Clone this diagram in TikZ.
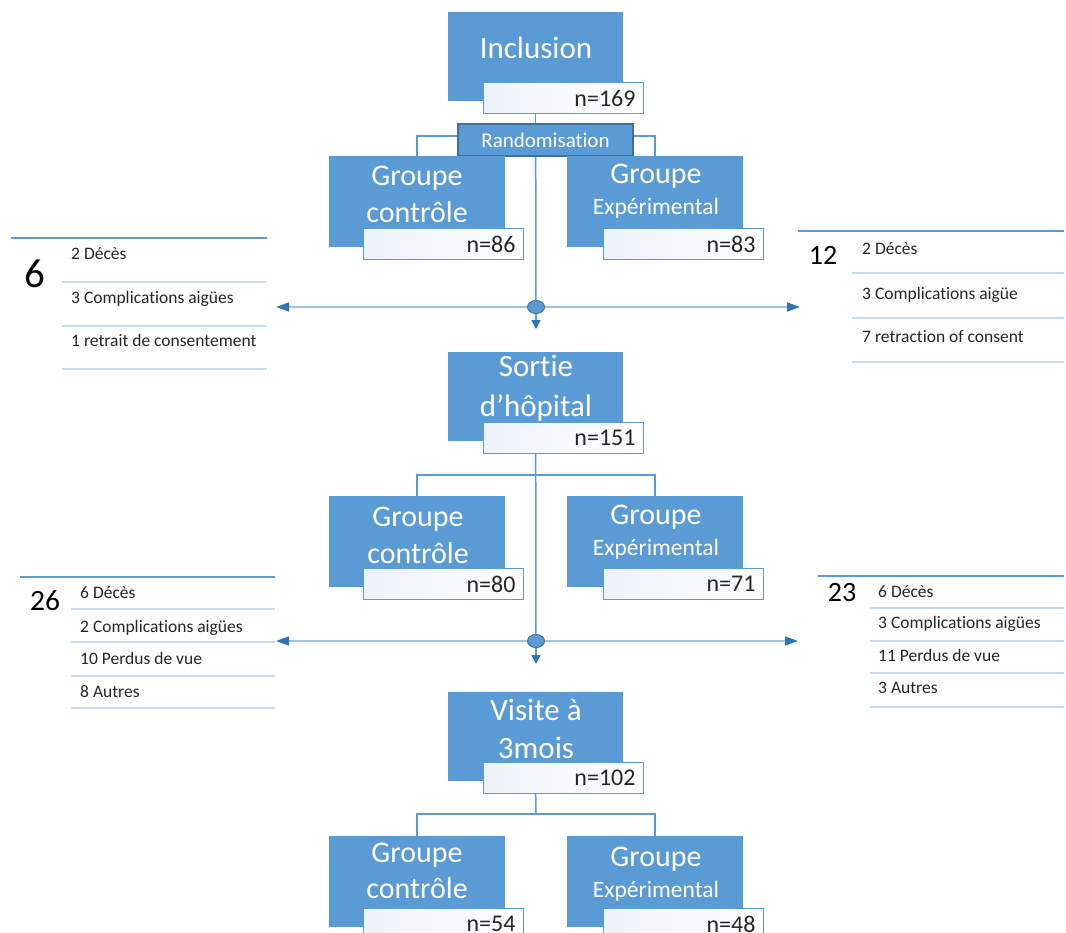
\documentclass[tikz,border=0pt]{standalone}
\usepackage{fontspec}
\setmainfont{Carlito}[Ligatures=NoCommon]
\usepackage{tikz}
\usetikzlibrary{arrows.meta, calc, positioning, shapes.geometric}
\usepackage{xcolor}
\definecolor{boxblue}{HTML}{5B9BD5}
\definecolor{darkblue}{HTML}{41719C}
\definecolor{tipblue}{HTML}{2E75B6}
\definecolor{paleblue}{HTML}{9DC3E6}
\definecolor{sepblue}{HTML}{C5D9F0}
\definecolor{nfill}{HTML}{EDF2FA}

\tikzset{
	mainbox/.style={fill=boxblue, minimum width=175pt, minimum height=89pt, anchor=north west, inner sep=0},
	grpbox/.style={fill=boxblue, minimum width=176pt, minimum height=91pt, anchor=north west, inner sep=0},
	nbox/.style={draw=boxblue, line width=1pt, left color=nfill, right color=white, minimum width=160pt, minimum height=31pt,
		text width=144pt, inner xsep=8pt, inner ysep=0, align=right, anchor=north west, text=black!85,
		font=\fontsize{24}{28}\selectfont},
	randbox/.style={fill=boxblue, draw=darkblue, line width=2pt, minimum width=175pt, minimum height=32pt, anchor=north west,
		inner sep=0, text=white, font=\fontsize{21}{24}\selectfont},
	boxtext/.style={anchor=base, inner sep=0, text=white, font=\fontsize{31}{36}\selectfont},
	grptext/.style={anchor=base, inner sep=0, text=white, font=\fontsize{30}{34}\selectfont},
	exptext/.style={anchor=base, inner sep=0, text=white, font=\fontsize{23.5}{27}\selectfont},
	listtext/.style={anchor=base west, inner sep=0, text=black!85, font=\fontsize{17.5}{20}\selectfont},
	lostnum/.style={anchor=base, inner sep=0, text=black},
	conn/.style={draw=boxblue, line width=1.5pt},
	dot/.style={ellipse, fill=boxblue, draw=darkblue, line width=1pt, minimum width=17pt, minimum height=13pt, inner sep=0},
	downarrow/.style={draw=boxblue, line width=1.5pt, -{Triangle[length=9pt, width=9pt, color=tipblue]}},
	sidearrow/.style={draw=paleblue, line width=1.5pt, -{Triangle[length=13pt, width=9pt, color=tipblue]}},
	topline/.style={draw=boxblue, line width=2pt},
	sepline/.style={draw=sepblue, line width=2pt}
}

\begin{document}
\begin{tikzpicture}[x=1pt, y=-1pt]
	\clip (0,0) rectangle (1066,933);
	\fill[white] (0,0) rectangle (1066,933);

	% inclusion
	\node[mainbox] (incl) at (448,12) {};
	\node[boxtext] (incl-t) at (536,59) {Inclusion};
	\node[nbox] (incln) at (483,82) {n=169};
	\node[randbox] (rando) at (457,123) {Randomisation};
	\draw[conn] (incl.south |- incln.south) -- (incl.south |- rando.north);

	\node[grpbox] (ctrl1) at (329,156) {};
	\node[grptext] (ctrl1-a) at (417,186) {Groupe};
	\node[grptext] (ctrl1-b) at (417,223) {contrôle};
	\node[nbox] (ctrl1n) at (363,228) {n=86};
	\node[grpbox] (exp1) at (567,156) {};
	\node[grptext] (exp1-a) at (656,184) {Groupe};
	\node[exptext] (exp1-b) at (656,215) {Expérimental};
	\node[nbox] (exp1n) at (603,228) {n=83};
	\draw[conn] ([yshift=4pt]rando.west) -| (ctrl1.north);
	\draw[conn] ([yshift=4pt]rando.east) -| (exp1.north);

	\node[dot] (dot1) at (536,307) {};
	\coordinate (dot1-end) at (536,329);
	\coordinate (la1) at (276,307);
	\coordinate (ra1) at (800,307);
	\draw[conn] (rando.south -| incl.south) -- (dot1);
	\draw[downarrow] (dot1) -- (dot1-end);
	\draw[sidearrow] (dot1) -- (la1);
	\draw[sidearrow] (dot1) -- (ra1);

	% sorties avant l'hopital
	\draw[topline] (11,238) -- (267,238);
	\node[lostnum, font=\fontsize{41}{44}\selectfont] (lost1l) at (35,288) {6};
	\node[listtext] (l1a) at (71,260) {2 Décès};
	\draw[sepline] (62,282) -- (267,282);
	\node[listtext] (l1b) at (71,304) {3 Complications aigües};
	\draw[sepline] (62,326) -- (267,326);
	\node[listtext] (l1c) at (71,347) {1 retrait de consentement};
	\draw[sepline] (62,369) -- (267,369);

	\draw[topline] (798,231) -- (1064,231);
	\node[lostnum, font=\fontsize{28}{32}\selectfont] (lost1r) at (823,265) {12};
	\node[listtext] (r1a) at (862,255) {2 Décès};
	\draw[sepline] (852,273) -- (1064,273);
	\node[listtext] (r1b) at (862,300) {3 Complications aigüe};
	\draw[sepline] (852,318) -- (1064,318);
	\node[listtext] (r1c) at (862,343) {7 retraction of consent};
	\draw[sepline] (852,362) -- (1064,362);

	% sortie d'hopital
	\node[mainbox] (sortie) at (448,352) {};
	\node[boxtext] (sortie-a) at (536,377) {Sortie};
	\node[boxtext] (sortie-b) at (536,416) {d’hôpital};
	\node[nbox] (sortien) at (483,422) {n=151};

	\node[grpbox] (ctrl2) at (329,496) {};
	\node[grptext] (ctrl2-a) at (418,526) {Groupe};
	\node[grptext] (ctrl2-b) at (418,563) {contrôle};
	\node[nbox] (ctrl2n) at (363,568) {n=80};
	\node[grpbox] (exp2) at (567,496) {};
	\node[grptext] (exp2-a) at (656,524) {Groupe};
	\node[exptext] (exp2-b) at (656,555) {Expérimental};
	\node[nbox] (exp2n) at (603,568) {n=71};
	\coordinate (br2) at (536,475);
	\draw[conn] (ctrl2.north) |- (br2) -| (exp2.north);

	\node[dot] (dot2) at (536,641) {};
	\coordinate (dot2-end) at (536,664);
	\coordinate (la2) at (276,641);
	\coordinate (ra2) at (798,641);
	\draw[conn] (sortie.south |- sortien.south) -- (dot2);
	\draw[downarrow] (dot2) -- (dot2-end);
	\draw[sidearrow] (dot2) -- (la2);
	\draw[sidearrow] (dot2) -- (ra2);

	% perdus avant 3 mois
	\draw[topline] (20,577) -- (275,577);
	\node[lostnum, font=\fontsize{29.5}{33}\selectfont] (lost2l) at (45,610) {26};
	\node[listtext] (l2a) at (80,598) {6 Décès};
	\draw[sepline] (71,609) -- (275,609);
	\node[listtext] (l2b) at (80,632) {2 Complications aigües};
	\draw[sepline] (71,642) -- (275,642);
	\node[listtext] (l2c) at (80,664) {10 Perdus de vue};
	\draw[sepline] (71,676) -- (275,676);
	\node[listtext] (l2d) at (80,697) {8 Autres};
	\draw[sepline] (71,708) -- (275,708);

	\draw[topline] (818,576) -- (1064,576);
	\node[lostnum, font=\fontsize{28}{32}\selectfont] (lost2r) at (842,601) {23};
	\node[listtext] (r2a) at (878,597) {6 Décès};
	\draw[sepline] (870,608) -- (1064,608);
	\node[listtext] (r2b) at (878,628) {3 Complications aigües};
	\draw[sepline] (870,641) -- (1064,641);
	\node[listtext] (r2c) at (878,661) {11 Perdus de vue};
	\draw[sepline] (870,673) -- (1064,673);
	\node[listtext] (r2d) at (878,693) {3 Autres};
	\draw[sepline] (870,707) -- (1064,707);

	% visite a 3 mois
	\node[mainbox] (visite) at (448,692) {};
	\node[boxtext] (visite-a) at (536,720) {Visite à};
	\node[boxtext] (visite-b) at (536,758) {3mois};
	\node[nbox] (visiten) at (483,762) {n=102};
	\coordinate (br3) at (536,814);
	\draw[conn] (visite.south |- visiten.south) -- (br3);

	\node[grpbox] (ctrl3) at (329,836) {};
	\node[grptext] (ctrl3-a) at (417,862) {Groupe};
	\node[grptext] (ctrl3-b) at (417,898) {contrôle};
	\node[nbox] (ctrl3n) at (363,908) {n=54};
	\node[grpbox] (exp3) at (567,836) {};
	\node[grptext] (exp3-a) at (656,866) {Groupe};
	\node[exptext] (exp3-b) at (656,897) {Expérimental};
	\node[nbox] (exp3n) at (603,908) {n=48};
	\draw[conn] (ctrl3.north) |- (br3) -| (exp3.north);
\end{tikzpicture}
\end{document}
